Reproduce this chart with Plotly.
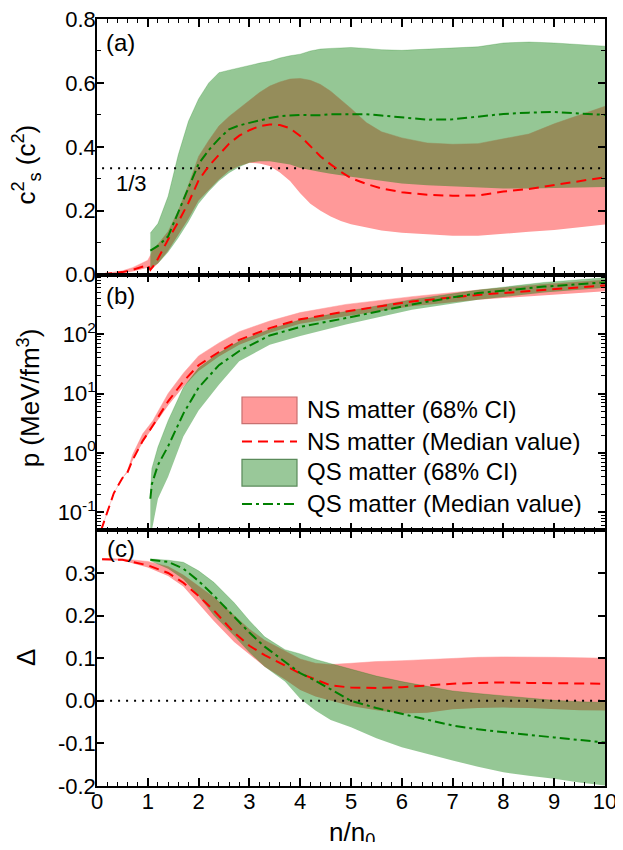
import plotly.graph_objects as go
from plotly.subplots import make_subplots

# ---------------- Panel (a): sound speed squared ----------------
x_ns_a = [0.1, 0.3, 0.5, 0.7, 0.9, 1.0, 1.05, 1.1, 1.2, 1.4, 1.6, 1.8, 2.0, 2.2, 2.4, 2.6, 2.8, 3.0,
          3.2, 3.4, 3.6, 3.8, 4.0, 4.2, 4.4, 4.6, 4.8, 5.0, 5.3, 5.6, 6.0, 6.5, 7.0, 7.5, 8.0, 8.5,
          9.0, 9.5, 10.0]
ns_cs2_upper = [0.002, 0.006, 0.012, 0.022, 0.036, 0.045, 0.06, 0.08, 0.095, 0.135, 0.2, 0.28, 0.37,
                0.42, 0.465, 0.495, 0.52, 0.545, 0.57, 0.59, 0.603, 0.612, 0.614, 0.608, 0.595, 0.574,
                0.548, 0.52, 0.476, 0.447, 0.428, 0.412, 0.408, 0.41, 0.425, 0.44, 0.472, 0.5, 0.527]
ns_cs2_lower = [0.0, 0.002, 0.005, 0.01, 0.017, 0.022, 0.02, 0.02, 0.035, 0.075, 0.125, 0.175, 0.232,
                0.265, 0.298, 0.325, 0.34, 0.35, 0.348, 0.34, 0.32, 0.293, 0.255, 0.222, 0.2, 0.182,
                0.168, 0.158, 0.147, 0.138, 0.131, 0.126, 0.122, 0.122, 0.127, 0.134, 0.14, 0.148, 0.157]
ns_cs2_median = [0.001, 0.004, 0.008, 0.015, 0.025, 0.03, 0.015, 0.025, 0.05, 0.11, 0.165, 0.225, 0.295,
                 0.34, 0.375, 0.41, 0.435, 0.452, 0.465, 0.47, 0.468, 0.458, 0.434, 0.402, 0.37, 0.345,
                 0.322, 0.302, 0.284, 0.27, 0.258, 0.25, 0.247, 0.248, 0.26, 0.268, 0.28, 0.292, 0.305]

x_qs_a = [1.05, 1.1, 1.2, 1.4, 1.6, 1.8, 2.0, 2.2, 2.4, 2.6, 2.8, 3.0, 3.2, 3.4, 3.6, 3.8, 4.0, 4.2,
          4.4, 4.6, 4.8, 5.0, 5.3, 5.6, 6.0, 6.5, 7.0, 7.5, 8.0, 8.5, 9.0, 9.5, 10.0]
qs_cs2_upper = [0.13, 0.14, 0.16, 0.245, 0.375, 0.48, 0.55, 0.6, 0.632, 0.64, 0.648, 0.655, 0.662,
                0.668, 0.678, 0.685, 0.69, 0.7, 0.706, 0.708, 0.71, 0.711, 0.708, 0.704, 0.702, 0.706,
                0.71, 0.713, 0.725, 0.728, 0.725, 0.72, 0.715]
qs_cs2_lower = [0.02, 0.025, 0.035, 0.07, 0.115, 0.165, 0.222, 0.26, 0.293, 0.318, 0.337, 0.35, 0.355,
                0.355, 0.35, 0.345, 0.334, 0.327, 0.321, 0.316, 0.31, 0.306, 0.3, 0.293, 0.285, 0.28,
                0.276, 0.273, 0.27, 0.27, 0.272, 0.273, 0.274]
qs_cs2_median = [0.075, 0.08, 0.09, 0.12, 0.195, 0.27, 0.347, 0.39, 0.425, 0.455, 0.467, 0.475, 0.483,
                 0.49, 0.496, 0.499, 0.5, 0.499, 0.499, 0.502, 0.502, 0.502, 0.502, 0.498, 0.492, 0.485,
                 0.486, 0.495, 0.503, 0.507, 0.509, 0.504, 0.5]

# ---------------- Panel (b): pressure (MeV/fm^3) ----------------
x_ns_b = [0.08, 0.2, 0.33, 0.5, 0.6, 0.7, 0.9, 1.1, 1.4, 1.7, 2.0, 2.4, 2.8, 3.4, 4.0, 4.9, 6.2, 7.5,
          8.8, 10.0]
ns_p_upper = [0.05, 0.1, 0.21, 0.38, 0.5, 0.93, 2.1, 3.5, 10, 22, 43, 71, 110, 166, 230, 316, 427, 550,
              690, 813]
ns_p_lower = [0.05, 0.1, 0.21, 0.38, 0.47, 0.74, 1.5, 2.7, 6.3, 13, 24, 42, 66, 105, 150, 200, 295, 380,
              447, 525]
ns_p_median = [0.05, 0.1, 0.21, 0.38, 0.47, 0.76, 1.6, 2.9, 7.4, 16, 30, 50, 80, 126, 178, 240, 355,
               457, 550, 660]

x_qs_b = [1.05, 1.08, 1.2, 1.4, 1.7, 2.0, 2.4, 2.8, 3.4, 4.0, 4.9, 6.2, 7.5, 8.8, 10.0]
qs_p_upper = [0.2, 0.55, 1.26, 3.5, 12.6, 27, 48, 76, 120, 174, 240, 380, 550, 740, 890]
qs_p_lower = [0.05, 0.05, 0.17, 0.4, 1.9, 5.2, 14, 35, 66, 93, 145, 257, 380, 500, 600]
qs_p_median = [0.17, 0.3, 0.63, 1.3, 4.6, 12.6, 30, 52, 95, 132, 186, 316, 490, 630, 740]

# ---------------- Panel (c): Delta ----------------
x_ns_c = [0.1, 0.5, 1.0, 1.4, 1.7, 2.0, 2.3, 2.7, 3.0, 3.3, 3.7, 4.0, 4.3, 4.6, 5.0, 5.5, 6.0, 6.5,
          7.0, 7.5, 8.0, 8.5, 9.0, 9.5, 10.0]
ns_d_upper = [0.334, 0.333, 0.327, 0.315, 0.295, 0.27, 0.243, 0.2, 0.168, 0.142, 0.116, 0.098, 0.088,
              0.085, 0.088, 0.092, 0.094, 0.097, 0.1, 0.102, 0.103, 0.103, 0.102, 0.101, 0.1]
ns_d_lower = [0.33, 0.329, 0.313, 0.293, 0.268, 0.228, 0.187, 0.138, 0.109, 0.08, 0.05, 0.025, 0.01,
              0.0, -0.012, -0.022, -0.03, -0.028, -0.02, -0.017, -0.016, -0.017, -0.02, -0.022, -0.023]
ns_d_median = [0.332, 0.331, 0.318, 0.3, 0.277, 0.246, 0.212, 0.16, 0.129, 0.107, 0.083, 0.064, 0.05,
               0.036, 0.031, 0.03, 0.032, 0.036, 0.04, 0.042, 0.043, 0.042, 0.041, 0.04, 0.04]

x_qs_c = [1.05, 1.4, 1.7, 2.0, 2.3, 2.7, 3.0, 3.3, 3.7, 4.0, 4.3, 4.6, 5.0, 5.5, 6.0, 6.5, 7.0, 7.5,
          8.0, 8.5, 9.0, 9.5, 10.0]
qs_d_upper = [0.333, 0.33, 0.325, 0.305, 0.278, 0.23, 0.188, 0.15, 0.12, 0.11, 0.097, 0.087, 0.075,
              0.058, 0.045, 0.034, 0.023, 0.017, 0.012, 0.006, 0.001, -0.002, -0.004]
qs_d_lower = [0.328, 0.31, 0.285, 0.246, 0.2, 0.152, 0.113, 0.08, 0.045, 0.005, -0.023, -0.045, -0.062,
              -0.088, -0.109, -0.125, -0.14, -0.155, -0.168, -0.176, -0.183, -0.192, -0.199]
qs_d_median = [0.331, 0.326, 0.31, 0.281, 0.247, 0.197, 0.16, 0.127, 0.092, 0.065, 0.047, 0.027, 0.0,
               -0.017, -0.031, -0.045, -0.058, -0.067, -0.074, -0.08, -0.086, -0.092, -0.098]

# reference levels
ref_x = [0.1, 10.0]
conformal_cs2 = 1.0 / 3.0
zero_delta = 0.0

# tick labels
x_ticks = list(range(0, 11))
ya_ticks = [0.0, 0.2, 0.4, 0.6, 0.8]
yb_ticks = [0.1, 1, 10, 100]
yb_ticktext = ["10<sup>-1</sup>", "10<sup>0</sup>", "10<sup>1</sup>", "10<sup>2</sup>"]
yc_ticks = [-0.2, -0.1, 0.0, 0.1, 0.2, 0.3]
yc_ticktext = ["-0.2", "-0.1", "0.0", "0.1", "0.2", "0.3"]

legend_labels = ["NS matter (68% CI)", "NS matter (Median value)",
                 "QS matter (68% CI)", "QS matter (Median value)"]

# ---------------- styles ----------------
FONT = "Liberation Sans, Arial, sans-serif"
PINK = "#FF9999"
GREEN_FILL = "rgba(10,126,10,0.43)"
RED = "#FF0000"
DKGREEN = "#008000"
RED_DASH = "10px,6px"
GREEN_DASHDOT = "10px,4px,3px,4px"

fig = make_subplots(rows=3, cols=1, shared_xaxes=True, vertical_spacing=0.0)


def add_band(x, lo, hi, color, row):
    fig.add_trace(go.Scatter(x=x, y=lo, mode="lines", line=dict(width=0, color=color),
                             showlegend=False, hoverinfo="skip"), row=row, col=1)
    fig.add_trace(go.Scatter(x=x, y=hi, mode="lines", line=dict(width=0.5, color=color),
                             fill="tonexty", fillcolor=color, showlegend=False,
                             hoverinfo="skip"), row=row, col=1)


def add_lines(x1, y1, x2, y2, row):
    fig.add_trace(go.Scatter(x=x1, y=y1, mode="lines",
                             line=dict(color=RED, width=2, dash=RED_DASH),
                             showlegend=False), row=row, col=1)
    fig.add_trace(go.Scatter(x=x2, y=y2, mode="lines",
                             line=dict(color=DKGREEN, width=2, dash=GREEN_DASHDOT),
                             showlegend=False), row=row, col=1)


# panel a
add_band(x_ns_a, ns_cs2_lower, ns_cs2_upper, PINK, 1)
add_band(x_qs_a, qs_cs2_lower, qs_cs2_upper, GREEN_FILL, 1)
fig.add_trace(go.Scatter(x=ref_x, y=[conformal_cs2] * 2, mode="lines",
                         line=dict(color="black", width=2, dash="2px,6px"), showlegend=False), row=1, col=1)
add_lines(x_ns_a, ns_cs2_median, x_qs_a, qs_cs2_median, 1)

# panel b
add_band(x_ns_b, ns_p_lower, ns_p_upper, PINK, 2)
add_band(x_qs_b, qs_p_lower, qs_p_upper, GREEN_FILL, 2)
add_lines(x_ns_b, ns_p_median, x_qs_b, qs_p_median, 2)

# panel c
add_band(x_ns_c, ns_d_lower, ns_d_upper, PINK, 3)
add_band(x_qs_c, qs_d_lower, qs_d_upper, GREEN_FILL, 3)
fig.add_trace(go.Scatter(x=ref_x, y=[zero_delta] * 2, mode="lines",
                         line=dict(color="black", width=2, dash="2px,6px"), showlegend=False), row=3, col=1)
add_lines(x_ns_c, ns_d_median, x_qs_c, qs_d_median, 3)

axis_common = dict(showline=True, linecolor="black", linewidth=1.6, mirror="allticks",
                   ticks="inside", tickcolor="black", tickwidth=1.5, showgrid=False, zeroline=False,
                   automargin=False, ticklabeloverflow="allow",
                   tickfont=dict(family=FONT, size=22, color="black"))

for r in (1, 2, 3):
    fig.update_xaxes(range=[0, 10], tickvals=x_ticks, ticklen=8, ticklabelstandoff=-5,
                     minor=dict(dtick=0.2, tick0=0, ticks="inside", ticklen=4, tickcolor="black", tickwidth=1.2),
                     showticklabels=(r == 3), **axis_common, row=r, col=1)

fig.update_yaxes(range=[0, 0.8], tickvals=ya_ticks, tickformat=".1f", ticklen=7, ticklabelstandoff=-5,
                 minor=dict(dtick=0.1, tick0=0, ticks="inside", ticklen=4, tickcolor="black", tickwidth=1.2),
                 **axis_common, row=1, col=1)

minor_log = [m * 10.0 ** k for k in (-2, -1, 0, 1, 2) for m in range(2, 10)]
minor_log = [v for v in minor_log if 0.05 <= v <= 1000]
fig.update_yaxes(type="log", range=[-1.301, 3.0], tickvals=yb_ticks, ticktext=yb_ticktext, ticklen=7,
                 ticklabelstandoff=-5,
                 minor=dict(tickvals=minor_log, ticks="inside", ticklen=4, tickcolor="black", tickwidth=1.2),
                 **axis_common, row=2, col=1)

fig.update_yaxes(range=[-0.2, 0.4], tickvals=yc_ticks, ticktext=yc_ticktext, ticklen=7,
                 ticklabelstandoff=-5, **axis_common, row=3, col=1)

ann = []
txt = dict(family=FONT, size=24, color="black")
# panel labels
for lab, yy in (("(a)", 0.969), ("(b)", 0.640), ("(c)", 0.310)):
    ann.append(dict(text=lab, xref="paper", yref="paper", x=0.0472, y=yy, showarrow=False,
                    xanchor="center", yanchor="middle", font=txt))
# 1/3 label
ann.append(dict(text="1/3", xref="x", yref="y", x=0.68, y=0.285, showarrow=False,
                xanchor="center", yanchor="middle", font=dict(family=FONT, size=22, color="black")))
# axis titles
ann.append(dict(text="c<sup>2</sup><sub>s</sub> (c<sup>2</sup>)", xref="paper", yref="paper",
                x=-0.14, y=0.81, textangle=-90, showarrow=False, xanchor="center", yanchor="middle",
                font=dict(family=FONT, size=26, color="black")))
ann.append(dict(text="p (MeV/fm<sup>3</sup>)", xref="paper", yref="paper",
                x=-0.133, y=0.506, textangle=-90, showarrow=False, xanchor="center", yanchor="middle",
                font=dict(family=FONT, size=26, color="black")))
ann.append(dict(text="Δ", xref="paper", yref="paper",
                x=-0.14, y=0.168, textangle=-90, showarrow=False, xanchor="center", yanchor="middle",
                font=dict(family=FONT, size=26, color="black")))
ann.append(dict(text="n/n<sub>0</sub>", xref="paper", yref="paper",
                x=0.502, y=-0.038, showarrow=False, xanchor="center", yanchor="top",
                font=dict(family=FONT, size=26, color="black")))

# manual legend (in paper coords)
lx0, lx1, ltx = 0.2854, 0.3937, 0.4094
leg_y = [0.4903, 0.4493, 0.4098, 0.3677]
shapes = []
shapes.append(dict(type="rect", xref="paper", yref="paper", x0=lx0, x1=lx1, y0=0.4724, y1=0.5072,
                   fillcolor=PINK, line=dict(color="#C87070", width=1.2)))
shapes.append(dict(type="line", xref="paper", yref="paper", x0=lx0, x1=lx1, y0=leg_y[1], y1=leg_y[1],
                   line=dict(color=RED, width=2, dash=RED_DASH)))
shapes.append(dict(type="rect", xref="paper", yref="paper", x0=lx0, x1=lx1, y0=0.3911, y1=0.4259,
                   fillcolor="#99C899", line=dict(color="#5A8A5A", width=1.2)))
shapes.append(dict(type="line", xref="paper", yref="paper", x0=lx0, x1=lx1, y0=leg_y[3], y1=leg_y[3],
                   line=dict(color=DKGREEN, width=2, dash=GREEN_DASHDOT)))
for lab, yy in zip(legend_labels, leg_y):
    ann.append(dict(text=lab, xref="paper", yref="paper", x=ltx, y=yy, showarrow=False,
                    xanchor="left", yanchor="middle", font=txt))

# the page body adds an 8px margin on every side, so the figure is sized so the
# whole page is exactly 623x850; automargin is off so the margins stay fixed
fig.update_layout(width=607, height=834, margin=dict(l=89, r=10, t=11, b=56, autoexpand=False),
                  plot_bgcolor="white", paper_bgcolor="white", showlegend=False,
                  annotations=ann, shapes=shapes, font=dict(family=FONT, color="black"))

fig.write_html("out.html")
